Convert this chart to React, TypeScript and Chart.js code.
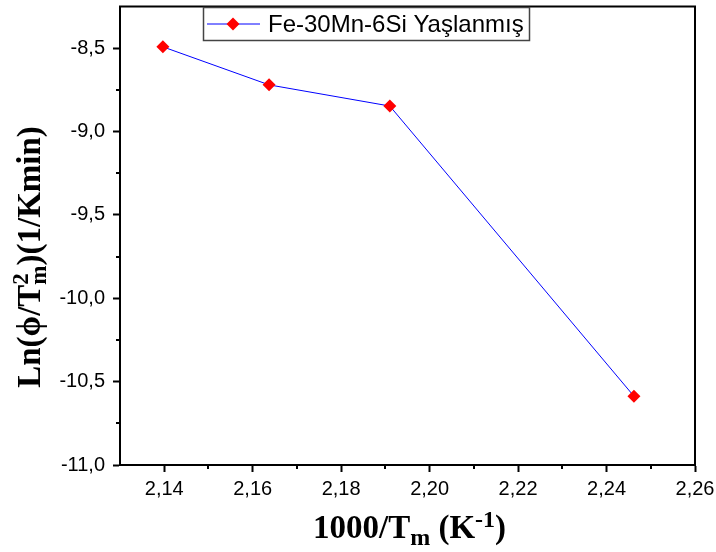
import React, { useEffect, useRef } from 'react';
import Chart from 'chart.js/auto';

const xValues = [2.1397, 2.1637, 2.191, 2.2462];
const yValues = [-8.492, -8.72, -8.847, -10.5875];
const seriesLabel = 'Fe-30Mn-6Si Yaşlanmış';
const xTicks = [2.14, 2.16, 2.18, 2.2, 2.22, 2.24, 2.26];
const yTicks = [-11, -10.5, -10, -9.5, -9, -8.5];
const xMinorTicks = [2.15, 2.17, 2.19, 2.21, 2.23, 2.25];
const yMinorTicks = [-10.75, -10.25, -9.75, -9.25, -8.75];

const SANS = '"Liberation Sans", Arial, sans-serif';
const SERIF = '"Liberation Serif", "Times New Roman", serif';

type Part = { t: string; size: number; dy: number; stack?: { t: string; size: number; dy: number } };

function drawRich(ctx: CanvasRenderingContext2D, parts: Part[], cx: number, cy: number) {
  const widthOf = (p: { t: string; size: number }) => {
    ctx.font = `bold ${p.size}px ${SERIF}`;
    return ctx.measureText(p.t).width;
  };
  let total = 0;
  for (const p of parts) total += Math.max(widthOf(p), p.stack ? widthOf(p.stack) : 0);
  let x = cx - total / 2;
  ctx.textBaseline = 'alphabetic';
  ctx.textAlign = 'left';
  ctx.fillStyle = '#000';
  for (const p of parts) {
    ctx.font = `bold ${p.size}px ${SERIF}`;
    ctx.fillText(p.t, x, cy + p.dy);
    let w = widthOf(p);
    if (p.stack) {
      ctx.font = `bold ${p.stack.size}px ${SERIF}`;
      ctx.fillText(p.stack.t, x, cy + p.stack.dy);
      w = Math.max(w, widthOf(p.stack));
    }
    x += w;
  }
}

const zeroPad = (s: any) => {
  s.paddingTop = 0;
  s.paddingBottom = 0;
  s.paddingLeft = 0;
  s.paddingRight = 0;
};

const decorPlugin = {
  id: 'decor',
  afterDraw(chart: any) {
    const ctx: CanvasRenderingContext2D = chart.ctx;
    const { left, right, top, bottom } = chart.chartArea;
    const xs = chart.scales.x;
    const ys = chart.scales.y;
    ctx.save();
    // frame top & right
    ctx.strokeStyle = '#000';
    ctx.lineWidth = 2;
    ctx.beginPath();
    ctx.moveTo(left - 1, top);
    ctx.lineTo(right, top);
    ctx.lineTo(right, bottom + 1);
    ctx.stroke();
    // minor ticks
    ctx.beginPath();
    for (const v of xMinorTicks) {
      const px = Math.round(xs.getPixelForValue(v));
      ctx.moveTo(px, bottom);
      ctx.lineTo(px, bottom + 4);
    }
    for (const v of yMinorTicks) {
      const py = Math.round(ys.getPixelForValue(v));
      ctx.moveTo(left, py);
      ctx.lineTo(left - 4, py);
    }
    ctx.stroke();

    // legend
    ctx.lineWidth = 1.5;
    ctx.strokeStyle = '#444';
    ctx.strokeRect(203.5, 7.5, 326, 33);
    ctx.lineWidth = 1;
    ctx.strokeStyle = '#0000ff';
    ctx.beginPath();
    ctx.moveTo(207, 24);
    ctx.lineTo(260, 24);
    ctx.stroke();
    ctx.fillStyle = '#ff0000';
    ctx.beginPath();
    ctx.moveTo(233, 17.5);
    ctx.lineTo(239.5, 24);
    ctx.lineTo(233, 30.5);
    ctx.lineTo(226.5, 24);
    ctx.closePath();
    ctx.fill();
    ctx.fillStyle = '#000';
    ctx.font = `24px ${SANS}`;
    ctx.textBaseline = 'middle';
    ctx.textAlign = 'left';
    ctx.fillText(chart.data.datasets[0].label, 268, 25);

    // x title
    drawRich(
      ctx,
      [
        { t: '1000/T', size: 33, dy: 0 },
        { t: 'm', size: 24, dy: 7 },
        { t: ' (K', size: 33, dy: 0 },
        { t: '-1', size: 24, dy: -11 },
        { t: ')', size: 33, dy: 0 },
      ],
      (left + right) / 2 + 2,
      538
    );
    // y title
    ctx.translate(40, 257);
    ctx.rotate(-Math.PI / 2);
    drawRich(
      ctx,
      [
        { t: 'Ln(ϕ/T', size: 33, dy: 0 },
        { t: 'm', size: 23, dy: 6, stack: { t: '2', size: 23, dy: -12 } },
        { t: ')(1/Kmin)', size: 33, dy: 0 },
      ],
      0,
      0
    );
    ctx.restore();
  },
};

export default function App() {
  const ref = useRef<HTMLCanvasElement>(null);
  useEffect(() => {
    if (!ref.current) return;
    const chart = new Chart(ref.current, {
      type: 'line',
      data: {
        datasets: [
          {
            label: seriesLabel,
            data: xValues.map((x, i) => ({ x, y: yValues[i] })),
            borderColor: '#0000ff',
            borderWidth: 1,
            pointStyle: 'rectRot',
            pointRadius: 6.5,
            pointBackgroundColor: '#ff0000',
            pointBorderColor: '#ff0000',
            pointBorderWidth: 0,
            tension: 0,
          },
        ],
      },
      options: {
        responsive: false,
        animation: false,
        layout: { padding: { top: 4, right: 21, left: 0, bottom: 0 } },
        plugins: { legend: { display: false }, tooltip: { enabled: false } },
        scales: {
          x: {
            type: 'linear',
            min: 2.13,
            max: 2.26,
            afterBuildTicks: (s: any) => {
              s.ticks = xTicks.map((v) => ({ value: v }));
            },
            afterFit: (s: any) => {
              s.height = 87;
              zeroPad(s);
            },
            grid: { drawOnChartArea: false, tickLength: 7, tickWidth: 2, tickColor: '#000' },
            border: { color: '#000', width: 2 },
            ticks: {
              color: '#000',
              font: { family: SANS, size: 20 },
              padding: 5,
              maxRotation: 0,
              autoSkip: false,
              callback: (v: any) => Number(v).toFixed(2).replace('.', ','),
            },
          },
          y: {
            type: 'linear',
            min: -11,
            max: -8.25,
            afterBuildTicks: (s: any) => {
              s.ticks = yTicks.map((v) => ({ value: v }));
            },
            afterFit: (s: any) => {
              s.width = 120;
              zeroPad(s);
            },
            grid: { drawOnChartArea: false, tickLength: 7, tickWidth: 2, tickColor: '#000' },
            border: { color: '#000', width: 2 },
            ticks: {
              color: '#000',
              font: { family: SANS, size: 20 },
              padding: 8,
              autoSkip: false,
              callback: (v: any) => Number(v).toFixed(1).replace('.', ','),
            },
          },
        },
      },
      plugins: [decorPlugin],
    });
    return () => chart.destroy();
  }, []);
  return (
    <div style={{ position: 'absolute', left: 0, top: 0, width: 716, height: 552, background: '#fff' }}>
      <canvas ref={ref} width={716} height={552} style={{ display: 'block' }} />
    </div>
  );
}
